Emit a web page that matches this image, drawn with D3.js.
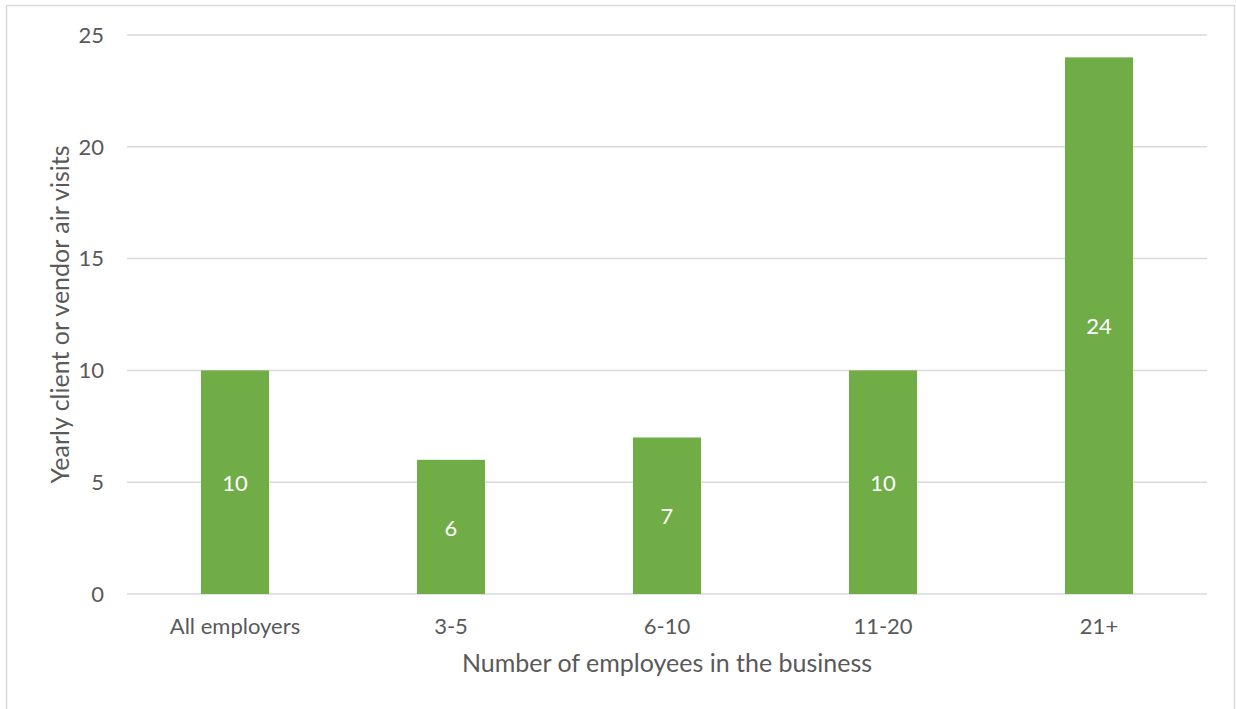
<!DOCTYPE html>
<html><head><meta charset="utf-8">
<script src="https://cdn.jsdelivr.net/npm/d3@7"></script>
<style>body{margin:0;background:#fff}svg{display:block}text{font-family:Lato,"Open Sans",sans-serif}</style>
</head><body>
<script>
const categories = ["All employers","3-5","6-10","11-20","21+"];
const values = [10,6,7,10,24];
const yTicks = [0,5,10,15,20,25];

const W=1236,H=709;
const svg=d3.select("body").append("svg").attr("width",W).attr("height",H);
svg.append("rect").attr("x",6.5).attr("y",5.5).attr("width",1228).attr("height",720).attr("fill","#fff").attr("stroke","#d9d9d9").attr("stroke-width",1.5);
const m={l:127,r:1207,t:35,b:594};
const x=d3.scaleBand().domain(categories).range([m.l,m.r]).paddingInner(0.685).paddingOuter(0.3425);
const y=d3.scaleLinear().domain([0,25]).range([m.b,m.t]);
const grid=svg.append("g");
grid.selectAll("line").data(yTicks).join("line").attr("x1",m.l).attr("x2",m.r).attr("y1",d=>y(d)).attr("y2",d=>y(d)).attr("stroke","#d9d9d9").attr("stroke-width",1.5);
svg.append("g").selectAll("text").data(yTicks).join("text").attr("x",104).attr("y",d=>y(d)).attr("dy","0.35em").attr("text-anchor","end").attr("fill","#595959").attr("font-size",22).text(d=>d);
svg.append("g").selectAll("rect").data(values).join("rect").attr("x",(d,i)=>x(categories[i])).attr("width",x.bandwidth()).attr("y",d=>y(d)).attr("height",d=>y(0)-y(d)).attr("fill","#70ad47");
svg.append("g").selectAll("text").data(values).join("text").attr("x",(d,i)=>x(categories[i])+x.bandwidth()/2).attr("y",d=>(y(d)+y(0))/2+1).attr("dy","0.35em").attr("text-anchor","middle").attr("fill","#fff").attr("font-size",22).text(d=>d);
svg.append("g").selectAll("text").data(categories).join("text").attr("x",d=>x(d)+x.bandwidth()/2).attr("y",626).attr("dy","0.35em").attr("text-anchor","middle").attr("fill","#595959").attr("font-size",22).text(d=>d);
svg.append("text").attr("x",(m.l+m.r)/2).attr("y",663).attr("dy","0.35em").attr("text-anchor","middle").attr("fill","#595959").attr("font-size",25).text("Number of employees in the business");
svg.append("text").attr("transform",`translate(60,${(m.t+m.b)/2}) rotate(-90)`).attr("dy","0.35em").attr("text-anchor","middle").attr("fill","#595959").attr("font-size",25).text("Yearly client or vendor air visits");
</script>
</body></html>
